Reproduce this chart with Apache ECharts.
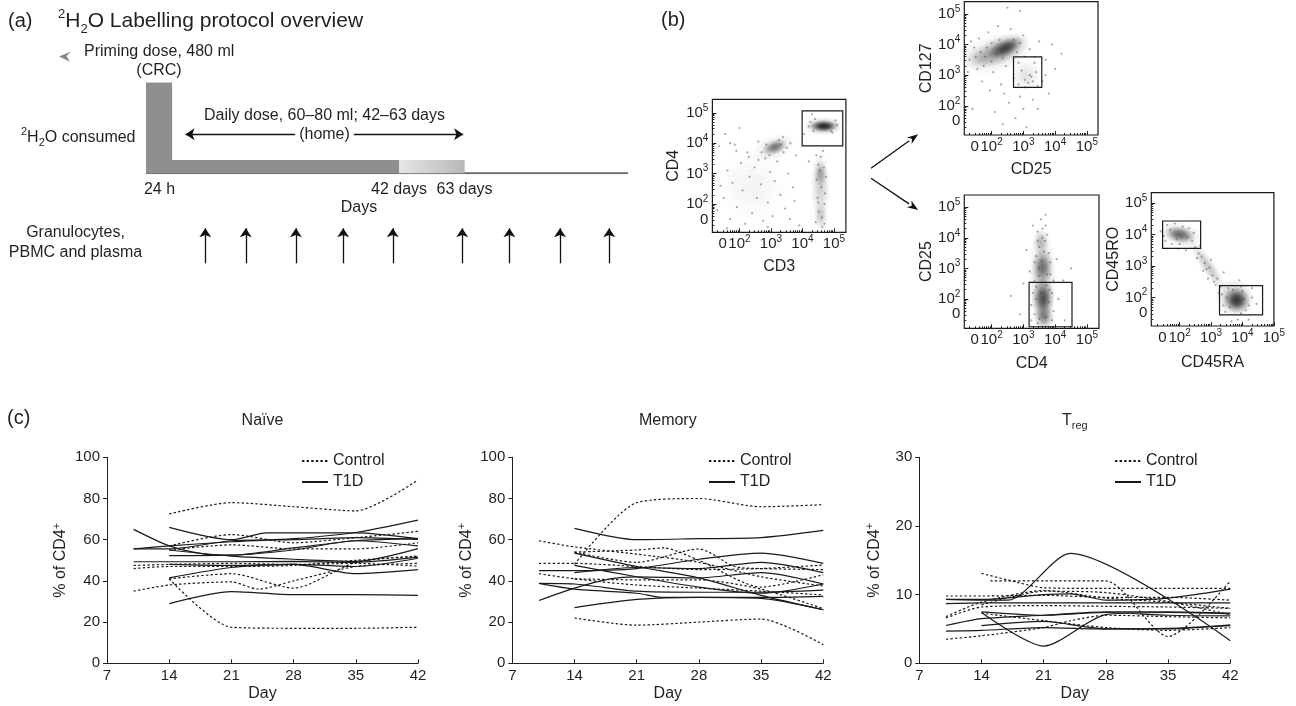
<!DOCTYPE html>
<html><head><meta charset="utf-8">
<script src="https://cdn.jsdelivr.net/npm/echarts@6.0.0/dist/echarts.min.js"></script>
<style>html,body{margin:0;padding:0;background:#fff;}#chart{width:1296px;height:706px;}</style>
</head><body><div id="chart"></div>
<script>
// ===================== DATA =====================
// (a) protocol timeline, in timeline units (0-100) along the "Days" axis
const dosePhaseNames = ['Priming dose', 'Daily dose', 'Washout'];
const dosePhaseStart = [0, 5.3, 52.5];
const dosePhaseEnd   = [5.3, 52.5, 66.1];
const dosePhaseLevel = [9.07, 1.32, 1.32];
const timelineTickPos    = [2.8, 52.5, 66.1];
const timelineTickLabels = ['24 h', '42 days', '63 days'];
const dailyDoseSpan  = [8.2, 65.8];
const dailyDoseLevel = 3.89;
const samplingTimes  = [12.3, 20.7, 31.1, 40.9, 51.2, 65.6, 75.4, 85.9, 96.1];

// (b) flow cytometry (log-decade units: 10^k -> k, "0" ~ 1.5)
// density blobs: [x, y, rx, ry, rotationDeg, density]
const cd3cd4Blobs = [
  [4.66, 4.56, 0.62, 0.3, 0, 0.4], [4.68, 4.56, 0.46, 0.2, 0, 0.95],
  [3.10, 3.86, 0.7, 0.42, 25, 0.16], [3.12, 3.87, 0.42, 0.24, 20, 0.55],
  [4.57, 2.60, 0.32, 1.15, 0, 0.22], [4.57, 3.00, 0.22, 0.45, 0, 0.3],
  [4.58, 1.60, 0.24, 0.5, 0, 0.22], [2.40, 2.60, 1.20, 1.30, 0, 0.05]
];
const cd3cd4Events = [[1.35,3.9],[1.5,2.2],[1.62,3.1],[1.7,1.5],[1.78,2.7],[1.85,3.95],[1.92,1.9],[2.05,3.35],[2.1,2.45],[2.18,1.35],[2.25,3.7],[2.32,2.9],[2.4,1.7],[2.48,3.2],[2.55,2.2],[2.6,4.05],[2.68,2.65],[2.75,1.45],[2.82,3.5],[2.9,2.05],[2.97,3.05],[3.05,1.6],[3.12,2.75],[3.2,3.4],[3.3,2.3],[3.38,4.2],[3.45,1.85],[3.55,3.0],[3.62,4.0],[3.7,2.55],[3.8,3.6],[3.9,1.3],[4.05,4.3],[4.2,3.4],[4.42,1.4],[4.48,2.2],[4.5,3.3],[4.52,1.75],[4.6,2.55],[4.63,1.25],[4.65,3.75],[4.7,2.0],[4.75,2.9],[4.58,3.55],[4.4,4.8],[4.95,4.35],[5.05,4.75],[4.3,4.95],[1.55,4.3],[2.0,4.5],
  [2.7,3.7],[2.85,3.95],[2.95,3.6],[3.3,3.95],[3.4,3.7],[3.25,4.1],[2.6,3.45],[3.5,3.85],[4.45,2.8],[4.68,3.2],[4.72,2.35],[4.5,2.05],[4.62,1.55],[4.55,3.1],[4.44,3.6],[4.7,1.35],[4.35,4.4],[4.9,4.4],[5.1,4.6],[4.25,4.7],[4.2,4.55],[1.9,3.75],[1.7,4.0],[2.3,3.55],[1.4,2.6],[1.3,1.8],[1.6,1.2],[2.9,1.25],[3.6,1.5],[3.75,2.1]];
const cd3cd4Gates = [[3.99, 3.91, 5.28, 5.06]];

const cd25cd127Blobs = [
  [2.10, 3.70, 1.20, 0.65, 15, 0.16], [2.30, 3.82, 0.95, 0.45, 22, 0.45],
  [2.45, 3.90, 0.6, 0.28, 25, 0.7], [3.10, 3.00, 0.5, 0.55, 0, 0.12],
  [1.60, 3.55, 0.5, 0.4, 0, 0.15]
];
const cd25cd127Events = [[1.3,3.5],[1.45,3.9],[1.55,3.2],[1.6,4.2],[1.7,2.8],[1.8,3.6],[1.9,4.4],[1.95,2.5],[2.05,3.1],[2.1,1.8],[2.2,4.6],[2.3,2.7],[2.35,1.4],[2.45,3.3],[2.55,2.1],[2.6,4.5],[2.7,2.9],[2.75,1.6],[2.85,3.4],[2.9,2.3],[3.0,4.3],[3.05,2.6],[3.1,1.3],[3.2,3.0],[3.3,2.2],[3.35,3.6],[3.45,1.9],[3.5,4.1],[3.6,2.8],[3.7,3.5],[3.8,2.4],[3.9,4.0],[4.0,3.2],[4.2,3.7],[2.5,5.2],[2.9,5.1],[1.4,1.9],[3.25,2.95],[2.95,3.15],[3.15,2.75],
  [1.5,3.6],[1.65,3.75],[1.75,3.3],[1.85,3.9],[2.0,3.45],[2.0,4.05],[2.15,3.7],[2.25,4.15],[2.35,3.55],[2.7,4.15],[2.8,3.75],[2.9,4.05],[3.05,3.6],[3.2,3.85],[3.35,3.4],[3.3,2.8],[3.05,2.85],[3.4,3.1],[3.45,2.65],[2.85,2.7],[1.25,3.1],[1.35,4.1],[3.7,3.0],[3.0,1.9],[2.4,2.4]];
const cd25cd127Gates = [[2.69, 2.6, 3.58, 3.6]];

const cd4cd25Blobs = [
  [3.60, 2.70, 0.45, 1.60, 0, 0.22], [3.60, 3.05, 0.34, 0.6, 0, 0.55],
  [3.62, 2.00, 0.36, 0.7, 0, 0.75], [3.65, 1.40, 0.34, 0.4, 0, 0.5],
  [3.55, 3.85, 0.26, 0.45, 0, 0.28]
];
const cd4cd25Events = [[3.3,4.4],[3.45,4.2],[3.5,3.7],[3.55,4.6],[3.6,4.3],[3.68,3.9],[3.75,4.1],[3.8,3.5],[3.35,3.2],[3.4,2.4],[3.85,2.8],[3.9,2.2],[3.95,1.6],[3.25,1.8],[3.2,2.9],[4.05,3.3],[4.1,2.0],[3.0,2.5],[2.9,1.5],[4.3,1.3],[4.25,2.6],[3.1,3.6],[3.7,4.75],[3.45,1.2],[2.6,2.1],[4.5,3.0],[3.58,3.25],[3.48,2.75],[3.72,2.45],[3.64,1.85],
  [3.35,1.5],[3.4,2.0],[3.5,1.35],[3.55,2.2],[3.7,1.4],[3.75,2.8],[3.8,1.9],[3.85,3.2],[3.4,3.4],[3.5,3.0],[3.65,3.55],[3.7,4.4],[3.35,2.6],[3.9,1.3],[3.6,4.0],[3.45,3.9],[3.82,2.3],[3.3,2.2],[3.95,2.6],[3.25,1.3]];
const cd4cd25Gates = [[3.18, 1.09, 4.53, 2.54]];

const cd45Blobs = [
  [2.05, 3.98, 0.7, 0.4, -15, 0.22], [2.00, 4.00, 0.5, 0.27, -10, 0.6],
  [2.90, 3.00, 1.0, 0.24, -55, 0.25], [3.75, 2.00, 0.65, 0.6, -30, 0.32],
  [3.82, 1.92, 0.44, 0.42, -20, 0.85]
];
const cd45Events = [[1.4,4.1],[1.55,3.8],[1.6,4.3],[1.75,3.7],[1.85,4.35],[2.3,4.2],[2.4,3.8],[2.5,3.6],[2.6,3.4],[2.7,3.3],[2.8,3.1],[2.85,2.9],[2.95,2.95],[3.05,2.7],[3.1,2.5],[3.2,2.6],[3.3,2.35],[3.35,2.1],[3.45,1.55],[3.55,2.3],[3.9,2.55],[4.1,1.6],[4.3,2.0],[4.45,1.8],[4.2,1.3],[3.65,1.25],[2.2,3.5],[1.95,3.55],[2.65,3.65],[3.0,3.2],[4.0,2.2],[3.4,2.8],
  [1.7,4.15],[1.9,3.85],[2.1,4.25],[2.25,3.9],[1.5,3.95],[2.45,4.05],[2.0,3.7],[2.55,3.25],[2.75,2.85],[2.9,2.6],[3.15,2.4],[3.25,2.15],[3.5,2.0],[3.6,1.7],[3.7,2.25],[3.95,1.5],[4.05,1.95],[4.2,1.75],[4.3,2.3],[3.85,1.3],[3.4,1.75],[3.95,2.35]];
const cd45Gates = [[1.46, 3.56, 2.67, 4.43], [3.27, 1.45, 4.64, 2.38]];

const flowDecades = [2, 3, 4, 5];
const flowDecadeLabels = ['10{s|2}', '10{s|3}', '10{s|4}', '10{s|5}'];
const flowZeroLabel = '0';

// (c) % of CD4+ by day, one [day, value] list per subject
const naiveControl = [
  [[14,72.5],[21,78],[28,76],[35,74],[42,89]],
  [[14,41],[21,17.5],[28,17],[35,17],[42,17.5]],
  [[14,57],[21,62.5],[28,58.5],[35,61],[42,64]],
  [[14,55],[21,57.5],[28,55.5],[35,55.5],[42,58.5]],
  [[14,41],[21,43.5],[28,36.5],[35,49],[42,52]],
  [[10,35],[14,38],[21,39.5],[24,36],[28,40],[35,47],[42,48.5]],
  [[10,47.5],[14,48],[21,48.5],[28,48],[35,48.5],[42,47.2]],
  [[10,46],[14,47],[21,47],[28,47.5],[35,50],[42,52]]
];
const naiveT1D = [
  [[10,65],[14,57],[18,53],[21,52.5],[28,56],[35,59.5],[42,60.5]],
  [[14,66],[21,60],[25,63.3],[35,63.3],[42,60.5]],
  [[10,55.5],[14,55.5],[21,59.5],[28,60],[35,61],[42,60.2]],
  [[10,55.5],[14,57],[21,59],[28,60.5],[35,63.5],[42,69.5]],
  [[14,52.3],[21,52.5],[28,55],[35,59.5],[42,57]],
  [[10,49.3],[14,49.3],[21,49.3],[28,49.5],[35,49],[42,51.5]],
  [[14,55],[21,52],[28,50.5],[35,49.5],[42,55.7]],
  [[14,41.5],[21,46.5],[28,48],[35,43.5],[42,45.5]],
  [[14,29],[21,34.8],[28,33.3],[35,33.3],[42,33]],
  [[14,48],[21,47.5],[28,48],[35,47],[42,51]]
];
const memoryControl = [
  [[14,48],[21,78],[28,80],[35,76],[42,77]],
  [[14,22],[21,18.5],[28,20],[35,21.5],[42,9]],
  [[10,59.5],[14,56.5],[21,53],[28,49],[35,42],[42,37.5]],
  [[10,48.5],[14,48.5],[21,47],[28,45.5],[35,46],[42,47.7]],
  [[10,43.5],[14,41],[21,38],[28,36.5],[35,35],[42,33.2]],
  [[14,54],[21,55],[24,56],[28,50],[35,37],[42,43]],
  [[14,54],[21,49],[28,55.5],[32,47],[35,46],[42,45.5]],
  [[14,41],[21,40.5],[28,40.5],[35,36],[42,26.5]]
];
const memoryT1D = [
  [[14,65.5],[21,60],[28,60.5],[35,61],[42,64.5]],
  [[14,53.5],[21,47],[28,41.5],[35,33],[42,26]],
  [[10,45],[14,45],[21,46],[28,50.5],[35,53.5],[42,48.5]],
  [[10,38.8],[14,38.5],[21,35],[28,34.5],[35,34.5],[42,35.5]],
  [[10,38.8],[14,36],[21,34],[24,32],[28,32],[35,32],[42,32.5]],
  [[10,30.5],[14,36.5],[18,41],[21,42],[28,41.5],[35,44],[42,38.5]],
  [[14,27],[21,31],[28,32],[35,31.5],[42,26]],
  [[14,44],[21,46.5],[28,46],[35,49],[42,44]],
  [[14,47.5],[21,42],[28,37],[35,34],[42,38.5]]
];
const tregControl = [
  [[14,13.1],[18,11.8],[21,11],[28,10.9],[35,10.9],[42,10.9]],
  [[15,12],[21,12],[28,12],[35,3.9],[42,12]],
  [[10,9.8],[14,9.8],[21,9.9],[28,9.6],[35,9.6],[42,9.2]],
  [[10,6.8],[14,8.9],[21,10.6],[28,9.5],[35,8.9],[42,8]],
  [[10,6.6],[14,8.2],[21,8.4],[28,8.3],[35,8.2],[42,8]],
  [[10,3.5],[14,4],[21,5.2],[24,6.2],[28,7],[35,6.8],[42,6.6]],
  [[14,7.3],[21,6.2],[28,5.2],[35,4.8],[42,5.2]],
  [[14,8.5],[21,10.5],[28,10.3],[35,9],[42,7.1]]
];
const tregT1D = [
  [[10,9.3],[14,9.2],[17,9.2],[24,16],[42,3.3]],
  [[14,7.4],[21,2.5],[28,7.1],[35,7.4],[42,7.2]],
  [[10,9.3],[14,9.3],[21,10],[24,10.1],[28,9.2],[35,9.5],[42,10.8]],
  [[10,8.7],[14,8.8],[21,8.8],[28,8.8],[35,8.8],[42,8.8]],
  [[10,5.5],[14,6.5],[21,7],[28,7.5],[35,7.5],[42,7.3]],
  [[10,4.7],[14,4.8],[21,5.2],[28,5],[35,5],[42,5.6]],
  [[14,5.5],[21,6.1],[28,5],[35,5.1],[42,5.5]],
  [[14,7.5],[21,7],[28,7.4],[35,7],[42,6.9]]
];
const dayTicks = [7, 14, 21, 28, 35, 42];

// ===================== CHART =====================
const FONT = '"Liberation Sans", Arial, Helvetica, sans-serif';
const INK = '#231f20';
const grid = [], xAxis = [], yAxis = [], series = [], graphic = [], legend = [];

function txt(x, y, text, o) {
  o = o || {};
  const al = o.align || 'left';
  graphic.push({ type: 'text', x: x, y: y, z: 100, silent: true, rotation: o.rotation || 0,
    style: Object.assign({ text: text, fill: INK, fontSize: o.size || 16, fontFamily: FONT,
      align: al, textAlign: al, verticalAlign: 'middle', textVerticalAlign: 'middle' }, o.style || {}) });
}
function supSub(main, small, lh) {
  return { lineHeight: lh, rich: {
    sup: { fontSize: small, lineHeight: small, verticalAlign: 'top', fontFamily: FONT, fill: INK },
    sub: { fontSize: small, lineHeight: small, verticalAlign: 'bottom', fontFamily: FONT, fill: INK } } };
}
function arrow(x1, y1, x2, y2) {
  const a = Math.atan2(y2 - y1, x2 - x1), L = 11, H = 4;
  const bx = x2 - L * Math.cos(a), by = y2 - L * Math.sin(a);
  graphic.push({ type: 'line', silent: true, shape: { x1: x1, y1: y1, x2: bx, y2: by }, style: { stroke: '#111', lineWidth: 1.3 } });
  graphic.push({ type: 'polygon', silent: true, shape: { points: [[x2, y2],
    [bx + H * Math.sin(a), by - H * Math.cos(a)], [x2 - 0.7 * L * Math.cos(a), y2 - 0.7 * L * Math.sin(a)],
    [bx - H * Math.sin(a), by + H * Math.cos(a)]] }, style: { fill: '#111' } });
}

// ---------- (a) ----------
txt(8, 21.6, '(a)', { size: 20 });
txt(58, 21.6, '{sup|2}H{sub|2}O Labelling protocol overview', { size: 21, style: supSub(21, 13, 28) });
graphic.push({ type: 'polygon', silent: true, shape: { points: [[59, 56.4], [71, 51.4], [66.5, 56], [70, 61.7]] }, style: { fill: '#8a8a8a' } });
txt(84, 51.5, 'Priming dose, 480 ml');
txt(159, 70.6, '(CRC)', { align: 'center' });
txt(135.5, 137.6, '{sup|2}H{sub|2}O consumed', { align: 'right', style: supSub(16, 11, 22) });
txt(324.5, 115.6, 'Daily dose, 60\u201380 ml; 42\u201363 days', { align: 'center' });
txt(324.5, 134.6, '(home)', { align: 'center', style: { backgroundColor: '#fff', padding: [0, 4] } });
txt(359, 207.5, 'Days', { align: 'center' });
txt(75.5, 232.3, 'Granulocytes,', { align: 'center' });
txt(75.5, 252.4, 'PBMC and plasma', { align: 'center' });

grid.push({ left: 146, top: 23.2, width: 482, height: 150 });
xAxis.push({ gridIndex: 0, type: 'value', min: 0, max: 100, axisLine: { show: false }, axisTick: { show: false }, splitLine: { show: false },
  axisLabel: { customValues: timelineTickPos, fontSize: 16, color: INK, fontFamily: FONT, margin: 8, showMinLabel: true, showMaxLabel: true,
    formatter: v => timelineTickLabels[timelineTickPos.indexOf(v)] || '' } });
yAxis.push({ gridIndex: 0, type: 'value', min: 0, max: 15, show: false });
grid.push({ left: 146, top: 228.3, width: 482, height: 35 });
xAxis.push({ gridIndex: 1, type: 'value', min: 0, max: 100, show: false });
yAxis.push({ gridIndex: 1, type: 'value', min: 0, max: 1, show: false });

series.push({ type: 'custom', name: 'dose', xAxisIndex: 0, yAxisIndex: 0, silent: true, z: 3,
  data: dosePhaseNames.map((n, i) => [dosePhaseStart[i], dosePhaseEnd[i], dosePhaseLevel[i], n === 'Washout' ? 1 : 0]),
  renderItem: (p, api) => {
    const a = api.coord([api.value(0), 0]), b = api.coord([api.value(1), api.value(2)]);
    return { type: 'rect', shape: { x: a[0], y: b[1], width: b[0] - a[0] + (api.value(3) ? 0 : 0.6), height: a[1] - b[1] },
      style: { fill: api.value(3) ? { type: 'linear', x: 0, y: 0, x2: 1, y2: 0, colorStops: [{ offset: 0, color: '#e6e6e6' }, { offset: 1, color: '#b8b8b9' }] } : '#8e8f91' } };
  } });
series.push({ type: 'line', xAxisIndex: 0, yAxisIndex: 0, silent: true, symbol: 'none', z: 2,
  data: [[0, 0], [100, 0]], lineStyle: { color: '#6a6a6a', width: 2 },
  markLine: { silent: true, symbol: ['arrow', 'arrow'], symbolSize: 9, label: { show: false },
    lineStyle: { color: '#111', width: 1.3, type: 'solid' },
    data: [[{ coord: [dailyDoseSpan[0], dailyDoseLevel] }, { coord: [dailyDoseSpan[1], dailyDoseLevel] }]] } });
series.push({ type: 'line', xAxisIndex: 1, yAxisIndex: 1, silent: true, symbol: 'none', data: [],
  markLine: { silent: true, symbol: ['none', 'arrow'], symbolSize: [9, 9], label: { show: false },
    lineStyle: { color: '#111', width: 1.3, type: 'solid' },
    data: samplingTimes.map(t => [{ coord: [t, 0] }, { coord: [t, 1] }]) } });

// ---------- (b) ----------
txt(661, 20.7, '(b)', { size: 20 });
arrow(871, 168.3, 918.2, 134.3);
arrow(871, 178.3, 918.2, 210);

function minorTicks(lo, hi) {
  const out = [];
  for (let d = 1; d <= 4; d++) for (let k = 2; k <= 9; k++) { const v = d + Math.log10(k); if (v > lo && v < hi) out.push(v); }
  return out;
}
function flowPlot(c) {
  const gi = grid.length;
  grid.push({ left: c.box[0], top: c.box[1], width: c.box[2], height: c.box[3], show: true, borderColor: '#1a1a1a', borderWidth: 1.2, backgroundColor: 'rgba(0,0,0,0)' });
  const xi = xAxis.length, yi = yAxis.length;
  const base = { fontSize: 15, color: INK, fontFamily: FONT, lineHeight: 20, showMinLabel: true, showMaxLabel: true };
  const decadeLab = isY => Object.assign({}, base, { customValues: flowDecades, margin: isY ? 4 : 2,
    formatter: v => flowDecadeLabels[flowDecades.indexOf(Math.round(v))] || '',
    rich: { s: { fontSize: 10, lineHeight: 10, verticalAlign: 'top', color: INK, fontFamily: FONT } } });
  const zeroLab = (z, isY) => Object.assign({}, base, { customValues: [z], margin: isY ? 4 : 2, formatter: () => flowZeroLabel });
  const minorTick = r => ({ show: true, inside: true, length: 2, customValues: minorTicks(r[0], r[1]), lineStyle: { color: '#222', width: 1 } });
  const nameStyle = { fontSize: 16, color: INK, fontFamily: FONT };
  xAxis.push({ gridIndex: gi, type: 'value', position: 'bottom', offset: 0, min: c.xr[0], max: c.xr[1], axisLine: { show: false }, splitLine: { show: false },
    axisTick: { show: true, inside: true, length: 4, customValues: flowDecades, lineStyle: { color: '#222', width: 1 } },
    axisLabel: decadeLab(false), name: c.xName, nameLocation: 'middle', nameGap: c.xGap, nameTextStyle: nameStyle });
  xAxis.push({ gridIndex: gi, type: 'value', position: 'bottom', offset: 0, min: c.xr[0], max: c.xr[1], axisLine: { show: false }, splitLine: { show: false },
    axisLabel: zeroLab(c.zx, false), axisTick: minorTick(c.xr) });
  yAxis.push({ gridIndex: gi, type: 'value', position: 'left', offset: 0, min: c.yr[0], max: c.yr[1], axisLine: { show: false }, splitLine: { show: false },
    axisTick: { show: true, inside: true, length: 4, customValues: flowDecades, lineStyle: { color: '#222', width: 1 } },
    axisLabel: decadeLab(true), name: c.yName, nameLocation: 'middle', nameGap: c.yGap, nameTextStyle: nameStyle });
  yAxis.push({ gridIndex: gi, type: 'value', position: 'left', offset: 0, min: c.yr[0], max: c.yr[1], axisLine: { show: false }, splitLine: { show: false },
    axisLabel: zeroLab(c.zy, true), axisTick: minorTick(c.yr) });
  series.push({ type: 'custom', xAxisIndex: xi, yAxisIndex: yi, silent: true, clip: true, z: 2, data: c.blobs,
    renderItem: (p, api) => {
      const ctr = api.coord([api.value(0), api.value(1)]);
      const s = api.size([api.value(2), api.value(3)]);
      const a = api.value(5);
      return { type: 'circle', x: ctr[0], y: ctr[1], scaleX: s[0], scaleY: s[1], rotation: api.value(4) * Math.PI / 180,
        shape: { cx: 0, cy: 0, r: 1 },
        style: { fill: { type: 'radial', x: 0.5, y: 0.5, r: 0.5, colorStops: [
          { offset: 0, color: 'rgba(25,25,25,' + a + ')' }, { offset: 0.35, color: 'rgba(25,25,25,' + (a * 0.75) + ')' },
          { offset: 0.65, color: 'rgba(25,25,25,' + (a * 0.32) + ')' }, { offset: 1, color: 'rgba(25,25,25,0)' }] } } };
    } });
  series.push({ type: 'scatter', xAxisIndex: xi, yAxisIndex: yi, silent: true, clip: true, z: 3, data: c.events,
    symbolSize: 2.2, itemStyle: { color: 'rgba(60,60,60,0.55)' } });
  series.push({ type: 'custom', xAxisIndex: xi, yAxisIndex: yi, silent: true, z: 4, data: c.gates,
    renderItem: (p, api) => {
      const a = api.coord([api.value(0), api.value(1)]), b = api.coord([api.value(2), api.value(3)]);
      return { type: 'rect', shape: { x: a[0], y: b[1], width: b[0] - a[0], height: a[1] - b[1] }, style: { fill: 'none', stroke: '#1a1a1a', lineWidth: 1.2 } };
    } });
}
flowPlot({ box: [712.4, 99.4, 133.5, 132.9], xr: [1.14, 5.38], yr: [1.07, 5.44], zx: 1.47, zy: 1.48, xName: 'CD3', yName: 'CD4', xGap: 26, yGap: 31,
  blobs: cd3cd4Blobs, events: cd3cd4Events, gates: cd3cd4Gates });
flowPlot({ box: [964.3, 1.6, 133.7, 133.4], xr: [1.14, 5.35], yr: [1.05, 5.4], zx: 1.47, zy: 1.5, xName: 'CD25', yName: 'CD127', xGap: 27, yGap: 27,
  blobs: cd25cd127Blobs, events: cd25cd127Events, gates: cd25cd127Gates });
flowPlot({ box: [964.3, 195, 134.7, 133.3], xr: [1.14, 5.38], yr: [1.04, 5.4], zx: 1.47, zy: 1.5, xName: 'CD4', yName: 'CD25', xGap: 27, yGap: 30,
  blobs: cd4cd25Blobs, events: cd4cd25Events, gates: cd4cd25Gates });
flowPlot({ box: [1151.3, 192.6, 122.6, 133.4], xr: [1.1, 5.0], yr: [1.1, 5.33], zx: 1.45, zy: 1.52, xName: 'CD45RA', yName: 'CD45RO', xGap: 29, yGap: 30,
  blobs: cd45Blobs, events: cd45Events, gates: cd45Gates });

// ---------- (c) ----------
txt(7, 418, '(c)', { size: 20 });
const cPanels = [
  { left: 107, title: 'Na\u00efve', yMax: 100, yInt: 20, control: naiveControl, t1d: naiveT1D, legendLeft: 301 },
  { left: 512.3, title: 'Memory', yMax: 100, yInt: 20, control: memoryControl, t1d: memoryT1D, legendLeft: 708 },
  { left: 919.3, title: 'T{sub|reg}', yMax: 30, yInt: 10, control: tregControl, t1d: tregT1D, legendLeft: 1114 }
];
cPanels.forEach(pn => {
  const gi = grid.length, xi = xAxis.length, yi = yAxis.length;
  grid.push({ left: pn.left, top: 457.3, width: 311, height: 206 });
  txt(pn.left + 155.5, 420.7, pn.title, { align: 'center', style: supSub(16, 11, 22) });
  xAxis.push({ gridIndex: gi, type: 'value', min: 7, max: 42, interval: 7, splitLine: { show: false },
    axisLine: { lineStyle: { color: INK, width: 1 } }, axisTick: { inside: true, length: 4, lineStyle: { color: INK } },
    axisLabel: { customValues: dayTicks, fontSize: 15, color: INK, fontFamily: FONT, margin: 5, showMinLabel: true, showMaxLabel: true },
    name: 'Day', nameLocation: 'middle', nameGap: 22, nameTextStyle: { fontSize: 16, color: INK, fontFamily: FONT } });
  yAxis.push({ gridIndex: gi, type: 'value', min: 0, max: pn.yMax, interval: pn.yInt, splitLine: { show: false },
    axisLine: { show: true, lineStyle: { color: INK, width: 1 } }, axisTick: { show: true, inside: false, length: 4, lineStyle: { color: INK } },
    axisLabel: { fontSize: 15, color: INK, fontFamily: FONT, margin: 7 },
    name: '% of CD4{s|+}', nameLocation: 'middle', nameGap: 35,
    nameTextStyle: { fontSize: 16, color: INK, fontFamily: FONT, lineHeight: 20, rich: { s: { fontSize: 11, lineHeight: 11, verticalAlign: 'top', color: INK, fontFamily: FONT } } } });
  const add = (lines, name, dash) => lines.forEach(d => series.push({ type: 'line', name: name, xAxisIndex: xi, yAxisIndex: yi,
    data: d, symbol: 'none', smooth: 0.25, silent: true, z: 3, itemStyle: { color: '#1a1a1a' },
    lineStyle: { color: '#1a1a1a', width: 1.2, type: dash ? [2.4, 2.2] : 'solid' } }));
  add(pn.control, 'Control', true);
  add(pn.t1d, 'T1D', false);
  legend.push({ data: ['Control', 'T1D'], orient: 'vertical', left: pn.legendLeft, top: 453, padding: 0,
    itemWidth: 26, itemHeight: 12, itemGap: 5, selectedMode: false, itemStyle: { opacity: 0 },
    textStyle: { fontSize: 16, color: INK, fontFamily: FONT, lineHeight: 16 } });
});

const chart = echarts.init(document.getElementById('chart'), null, { renderer: 'canvas' });
chart.setOption({ backgroundColor: '#fff', animation: false, textStyle: { fontFamily: FONT },
  grid: grid, xAxis: xAxis, yAxis: yAxis, series: series, legend: legend, graphic: { elements: graphic } });
</script></body></html>
